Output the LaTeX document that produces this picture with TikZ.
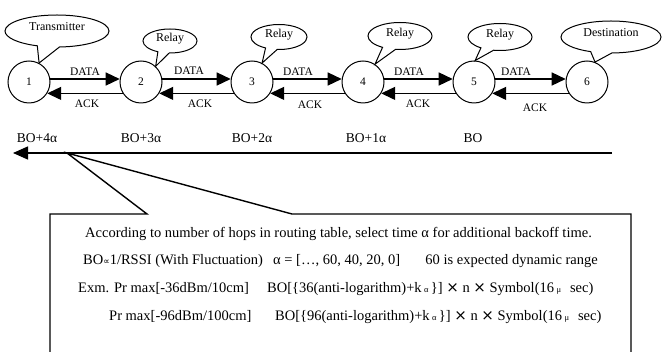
\documentclass[tikz,border=0pt]{standalone}
\usepackage{fontspec}
\setmainfont{Liberation Serif}
\newfontfamily\symfont{DejaVu Sans}
\newcommand{\mytimes}{{\symfont\fontsize{15}{16}\selectfont ×}}
\newcommand{\smallgr}[1]{{\fontsize{8.5}{9}\selectfont #1}}
\usetikzlibrary{arrows.meta,shapes.geometric,shapes.callouts}
\begin{document}
\begin{tikzpicture}[x=1pt,y=-1pt,
  hop/.style={circle,draw,line width=1pt,minimum size=42pt,inner sep=0pt,font=\fontsize{11.5}{13}\selectfont},
  bubble/.style={ellipse callout,draw,fill=white,line width=1pt,inner sep=0pt,text depth=8pt,callout pointer arc=25,font=\fontsize{12}{14}\selectfont},
  msg/.style={line width=1.4pt,-{Triangle[length=14pt,width=13pt]}},
  lbl/.style={font=\fontsize{11.5}{13}\selectfont,inner sep=0pt},
  bolbl/.style={font=\fontsize{13.5}{15}\selectfont,inner sep=0pt},
  txt/.style={font=\fontsize{14.5}{16}\selectfont,inner sep=0pt,anchor=base west},
  txte/.style={txt,anchor=base east},
  frame/.style={line width=1.4pt},
]
\useasboundingbox (0,0) rectangle (663,352);
\fill[white] (0,0) rectangle (663,352);

% hops
\node[hop] (n1) at (29,82) {1};
\node[hop] (n2) at (141,82) {2};
\node[hop] (n3) at (252,82) {3};
\node[hop] (n4) at (363,82) {4};
\node[hop] (n5) at (474,82) {5};
\node[hop] (n6) at (587,82) {6};

% callouts
\node[bubble,minimum width=104pt,minimum height=32pt,callout absolute pointer={(n1.62)}] (c1) at (57,31) {Transmitter};
\node[bubble,minimum width=54pt,minimum height=24pt,callout absolute pointer={(n2.47)}] (c2) at (170,41) {Relay};
\node[bubble,minimum width=56pt,minimum height=25pt,callout absolute pointer={(n3.62)}] (c3) at (279,37) {Relay};
\node[bubble,minimum width=64pt,minimum height=27pt,callout absolute pointer={(n4.56)}] (c4) at (400,36) {Relay};
\node[bubble,minimum width=64pt,minimum height=27pt,callout absolute pointer={(n5.87)}] (c5) at (500,37) {Relay};
\node[bubble,minimum width=100pt,minimum height=32pt,callout absolute pointer={(n6.68)}] (c6) at (611,37) {Destination};

% data / ack
\draw[msg] (n1.8) -- (n2.172);
\draw[msg] (n2.8) -- (n3.172);
\draw[msg] (n3.8) -- (n4.172);
\draw[msg] (n4.8) -- (n5.172);
\draw[msg] (n5.8) -- (n6.172);
\draw[msg] (n2.212) -- (n1.-32);
\draw[msg] (n3.212) -- (n2.-32);
\draw[msg] (n4.212) -- (n3.-32);
\draw[msg] (n5.212) -- (n4.-32);
\draw[msg] (n6.212) -- (n5.-32);

\node[lbl] (d1) at (85,72) {DATA};
\node[lbl] (d2) at (189,71) {DATA};
\node[lbl] (d3) at (298,72) {DATA};
\node[lbl] (d4) at (409,72) {DATA};
\node[lbl] (d5) at (516,72) {DATA};
\node[lbl] (a1) at (87,104) {ACK};
\node[lbl] (a2) at (200,104) {ACK};
\node[lbl] (a3) at (310,105) {ACK};
\node[lbl] (a4) at (418,104) {ACK};
\node[lbl] (a5) at (535,108) {ACK};

% BO labels
\node[bolbl] (b4) at (37,138) {BO+4α};
\node[bolbl] (b3) at (141,138) {BO+3α};
\node[bolbl] (b2) at (252,138) {BO+2α};
\node[bolbl] (b1) at (366,138) {BO+1α};
\node[bolbl] (b0) at (473,138) {BO};

% time axis
\coordinate (tstart) at (612,153);
\coordinate (tend) at (13,153);
\coordinate (apex) at (67,153);
\draw[line width=1.4pt,-{Triangle[length=15pt,width=13pt]}] (tstart) -- (tend);

% note box with pointer
\coordinate (bl) at (50,380);
\coordinate (tl) at (50,214);
\coordinate (p1) at (147,214);
\coordinate (p2) at (292,214);
\coordinate (tr) at (631,214);
\coordinate (br) at (631,380);
\draw[frame,line join=miter] (bl) -- (tl) -- (p1) -- (apex) -- (p2) -- (tr) -- (br);

\node[txt] (l1) at (85,238) {According to number of hops in routing table, select time α for additional backoff time.};
\node[txt] (l2a) at (83,265) {BO{\symfont\fontsize{9}{10}\selectfont ∝}1/RSSI (With Fluctuation)};
\node[txt] (l2b) at (273,265) {α = […, 60, 40, 20, 0]};
\node[txte] (l2c) at (598,265) {60 is expected dynamic range};
\node[txt] (l3a) at (78,292) {Exm. Pr max[-36dBm/10cm]};
\node[txt] (l3b) at (267,292) {BO[\{36(anti-logarithm)+k\,\smallgr{α}\,\}]\ \mytimes\ n\ \mytimes\ Symbol(16\,\smallgr{μ}\hspace{9pt}sec)};
\node[txt] (l4a) at (109,320) {Pr max[-96dBm/100cm]};
\node[txt] (l4b) at (275,320) {BO[\{96(anti-logarithm)+k\,\smallgr{α}\,\}]\ \mytimes\ n\ \mytimes\ Symbol(16\,\smallgr{μ}\hspace{9pt}sec)};
\end{tikzpicture}
\end{document}
